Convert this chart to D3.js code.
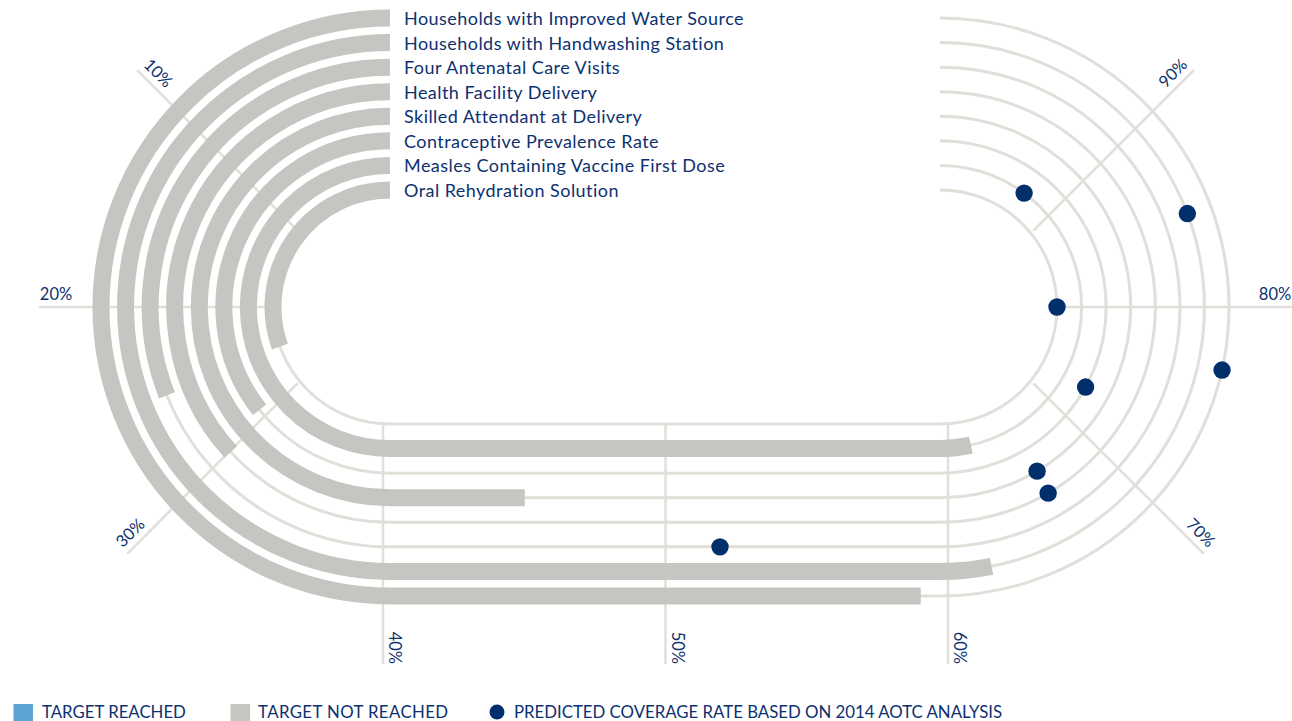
<!DOCTYPE html>
<html><head><meta charset="utf-8">
<script src="https://cdn.jsdelivr.net/npm/d3@7"></script>
<style>body{margin:0;background:#fff}svg{display:block}</style>
</head><body><svg id="chart" width="1292" height="721"></svg>
<script>
// ---- data ----
const categories = [
  "Households with Improved Water Source",
  "Households with Handwashing Station",
  "Four Antenatal Care Visits",
  "Health Facility Delivery",
  "Skilled Attendant at Delivery",
  "Contraceptive Prevalence Rate",
  "Measles Containing Vaccine First Dose",
  "Oral Rehydration Solution"
];
const coverage = [59.3, 62.5, 24.8, 29.4, 44.9, 28.5, 62.8, 24.4];
const predicted = [77.2, 84.6, 52.0, 66.7, 66.8, 73.6, 91.9, 80.0];
const targetReached = [false, false, false, false, false, false, false, false];
const tickValues = [10, 20, 30, 40, 50, 60, 70, 80, 90];
const tickLabels = ["10%", "20%", "30%", "40%", "50%", "60%", "70%", "80%", "90%"];
const legendLabels = ["TARGET REACHED", "TARGET NOT REACHED", "PREDICTED COVERAGE RATE BASED ON 2014 AOTC ANALYSIS"];

// ---- layout ----
const C = {text:"#0d3170", dot:"#002f6c", bar:"#c6c5c1", grid:"#e0dfd9", reached:"#5ba4d4"};
const FONT = "Lato, 'Open Sans', sans-serif";
const svg = d3.select("#chart");
svg.append("rect").attr("width",1292).attr("height",721).attr("fill","#fff");

const cy = 307, cxL = 390, cxR = 940;
const radius = d3.scalePoint().domain(categories.slice().reverse()).range([117, 289]);
const straightX = d3.scaleLinear().domain([40, 60]).range([cxL, cxR]);
const leftAngle = d3.scaleLinear().domain([0, 40]).range([-Math.PI/2, -3*Math.PI/2]);
const rightAngle = d3.scaleLinear().domain([60, 100]).range([Math.PI/2, -Math.PI/2]);

function trackPath(r, v) {
  const p = d3.path();
  p.moveTo(cxL, cy - r);
  p.arc(cxL, cy, r, -Math.PI/2, leftAngle(Math.min(v, 40)), true);
  if (v > 40) p.lineTo(straightX(Math.min(v, 60)), cy + r);
  if (v > 60) p.arc(cxR, cy, r, Math.PI/2, rightAngle(Math.min(v, 100)), true);
  return p.toString();
}
function trackPoint(r, v) {
  if (v <= 40) { const a = leftAngle(v); return [cxL + r*Math.cos(a), cy + r*Math.sin(a)]; }
  if (v <= 60) return [straightX(v), cy + r];
  const a = rightAngle(v); return [cxR + r*Math.cos(a), cy + r*Math.sin(a)];
}

// tick frame (slightly wider than the tracks, as in the original)
const tcxL = 374, tcxR = 957;
const tickX = d3.scaleLinear().domain([40, 60]).range([383, 948]);
const rIn = 108;
const rOut = v => (v >= 40 && v <= 60) ? 357 : (v > 20 && v < 80 ? 349 : 335);
function tickAngle(v) { return v <= 40 ? leftAngle(v) : rightAngle(v); }
function tickCenter(v) { return v <= 40 ? tcxL : tcxR; }

// track lines
const gTracks = svg.append("g");
gTracks.selectAll("path").data(categories).join("path")
  .attr("d", d => trackPath(radius(d), 100))
  .attr("fill", "none").attr("stroke", C.grid).attr("stroke-width", 3);

// tick lines
const gTicks = svg.append("g");
tickValues.forEach((v, i) => {
  let x1, y1, x2, y2;
  if (v >= 40 && v <= 60) {
    x1 = x2 = tickX(v); y1 = cy + radius.range()[0]; y2 = cy + rOut(v);
  } else {
    const a = tickAngle(v), c = tickCenter(v);
    x1 = c + rIn*Math.cos(a); y1 = cy + rIn*Math.sin(a);
    x2 = c + rOut(v)*Math.cos(a); y2 = cy + rOut(v)*Math.sin(a);
  }
  gTicks.append("line").attr("x1", x1).attr("y1", y1).attr("x2", x2).attr("y2", y2)
    .attr("stroke", C.grid).attr("stroke-width", 2.5);
});

// bars
const gBars = svg.append("g");
gBars.selectAll("path").data(categories).join("path")
  .attr("d", (d, i) => trackPath(radius(d), coverage[i]))
  .attr("fill", "none")
  .attr("stroke", (d, i) => targetReached[i] ? C.reached : C.bar)
  .attr("stroke-width", 17).attr("stroke-linecap", "butt");

// predicted dots
svg.append("g").selectAll("circle").data(categories).join("circle")
  .attr("cx", (d, i) => trackPoint(radius(d), predicted[i])[0])
  .attr("cy", (d, i) => trackPoint(radius(d), predicted[i])[1])
  .attr("r", 8.7).attr("fill", C.dot);

// category labels
svg.append("g").selectAll("text").data(categories).join("text")
  .attr("x", 404).attr("y", d => cy - radius(d) + 7)
  .attr("font-family", FONT).attr("font-size", 18).attr("letter-spacing", 0.45)
  .attr("fill", C.text)
  .text(d => d);

// tick labels
const gTL = svg.append("g").attr("font-family", FONT).attr("font-size", 16.5).attr("fill", C.text);
tickValues.forEach((v, i) => {
  if (v >= 40 && v <= 60) {
    const x = tickX(v) + 6, y = cy + rOut(v);
    gTL.append("text").attr("transform", `translate(${x},${y}) rotate(90)`)
      .attr("text-anchor", "end").text(tickLabels[i]);
  } else {
    const a = tickAngle(v), c = tickCenter(v);
    let deg = a * 180 / Math.PI;
    if (Math.cos(a) < -1e-6) deg += 180;
    const th = deg * Math.PI / 180;
    const up = [Math.sin(th), -Math.cos(th)];
    const rl = rOut(v) - 17, off = 7;
    const x = c + rl*Math.cos(a) + up[0]*off, y = cy + rl*Math.sin(a) + up[1]*off;
    gTL.append("text").attr("transform", `translate(${x},${y}) rotate(${deg})`)
      .attr("text-anchor", "middle").text(tickLabels[i]);
  }
});

// legend
const gL = svg.append("g").attr("font-family", FONT).attr("font-size", 16.8).attr("fill", C.text);
gL.append("rect").attr("x", 13.5).attr("y", 704).attr("width", 19.5).attr("height", 19.5).attr("fill", C.reached);
gL.append("text").attr("x", 42).attr("y", 718).text(legendLabels[0]);
gL.append("rect").attr("x", 230.5).attr("y", 704).attr("width", 19.5).attr("height", 19.5).attr("fill", C.bar);
gL.append("text").attr("x", 258).attr("y", 718).attr("letter-spacing", 0.4).text(legendLabels[1]);
gL.append("circle").attr("cx", 497).attr("cy", 712).attr("r", 7.5).attr("fill", C.dot);
gL.append("text").attr("x", 514).attr("y", 718).text(legendLabels[2]);
</script></body></html>
